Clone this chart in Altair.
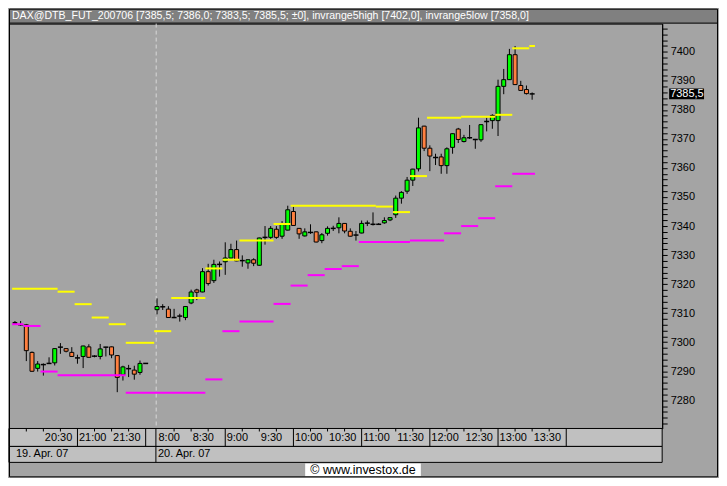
import altair as alt
import pandas as pd

# ------------------------------------------------------------------ data
SYMBOL = "DAX@DTB_FUT_200706"
DAY1_COUNT = 24          # 20:05 .. 22:00 (5-minute bars), 19. Apr. 07
DAY2_COUNT = 67          # 08:00 .. 13:30, 20. Apr. 07

OPEN = [7306.8, 7306.0, 7306.0, 7296.5, 7291.0, 7292.3, 7292.7, 7292.9, 7298.3, 7297.8,
        7296.5, 7294.6, 7295.1, 7298.4, 7295.2, 7295.1, 7298.3, 7298.4, 7295.4, 7288.8,
        7290.9, 7290.4, 7289.6, 7292.7,
        7311.2, 7312.2, 7311.4, 7308.5, 7309.0, 7308.5, 7313.5, 7318.0, 7317.3, 7324.3,
        7321.2, 7326.8, 7327.7, 7329.0, 7331.9, 7328.1, 7327.3, 7328.4, 7326.5, 7336.1,
        7336.1, 7338.9, 7336.5, 7338.6, 7345.0, 7339.2, 7336.6, 7337.8, 7338.0, 7335.0,
        7337.5, 7339.2, 7339.4, 7340.9, 7338.2, 7336.9, 7337.6, 7341.0, 7340.6, 7340.6,
        7341.1, 7342.1, 7343.9, 7349.6, 7352.0, 7355.8, 7359.7, 7374.4, 7366.8, 7363.6,
        7363.8, 7360.8, 7367.1, 7373.4, 7369.1, 7370.4, 7369.8, 7369.7, 7376.0, 7376.3,
        7376.3, 7388.1, 7390.4, 7399.0, 7388.4, 7387.0, 7385.5]
HIGH = [7307.3, 7307.3, 7306.3, 7296.8, 7293.5, 7292.7, 7294.8, 7297.9, 7299.7, 7297.9,
        7298.3, 7295.7, 7298.8, 7299.3, 7295.5, 7299.4, 7298.4, 7298.5, 7295.5, 7291.9,
        7292.2, 7291.9, 7293.7, 7292.7,
        7315.1, 7313.1, 7312.4, 7311.5, 7309.8, 7312.4, 7318.1, 7318.4, 7325.5, 7327.0,
        7328.4, 7327.8, 7334.4, 7333.9, 7335.0, 7329.9, 7328.5, 7328.9, 7336.0, 7340.0,
        7340.0, 7340.0, 7341.7, 7347.0, 7346.6, 7339.3, 7339.2, 7340.6, 7338.1, 7337.6,
        7339.9, 7340.1, 7343.0, 7341.0, 7339.2, 7338.3, 7341.9, 7341.9, 7344.7, 7341.0,
        7343.0, 7343.0, 7350.5, 7352.0, 7356.9, 7359.7, 7377.3, 7374.5, 7367.8, 7364.9,
        7364.9, 7367.1, 7371.9, 7373.8, 7371.4, 7374.8, 7370.0, 7375.0, 7377.3, 7378.5,
        7390.4, 7394.1, 7401.0, 7402.0, 7390.0, 7388.4, 7386.0]
LOW = [7306.0, 7305.6, 7293.5, 7289.8, 7289.9, 7288.5, 7292.5, 7292.0, 7296.0, 7296.5,
       7295.0, 7292.6, 7291.1, 7294.7, 7294.8, 7294.1, 7295.1, 7294.5, 7282.8, 7286.8,
       7288.0, 7287.1, 7288.8, 7292.7,
       7309.6, 7311.1, 7308.4, 7308.3, 7307.1, 7307.6, 7313.1, 7314.5, 7317.2, 7319.5,
       7320.4, 7322.6, 7323.2, 7328.9, 7327.9, 7326.0, 7325.3, 7326.2, 7326.4, 7333.6,
       7335.6, 7335.6, 7335.6, 7338.5, 7340.1, 7335.6, 7336.4, 7337.3, 7334.4, 7334.1,
       7336.7, 7338.3, 7337.5, 7337.5, 7336.4, 7335.0, 7337.5, 7340.0, 7340.2, 7340.4,
       7340.8, 7341.7, 7342.8, 7347.7, 7351.1, 7353.8, 7358.8, 7365.8, 7358.9, 7361.0,
       7358.0, 7358.0, 7364.9, 7368.6, 7368.8, 7370.0, 7366.6, 7369.0, 7372.6, 7373.5,
       7371.0, 7385.4, 7390.3, 7388.6, 7386.6, 7385.3, 7383.5]
CLOSE = [7306.5, 7306.0, 7297.1, 7290.0, 7292.5, 7292.3, 7292.7, 7297.8, 7298.3, 7296.9,
         7295.1, 7294.6, 7298.7, 7294.8, 7295.2, 7297.7, 7298.3, 7295.6, 7287.9, 7291.5,
         7290.9, 7289.0, 7292.7, 7292.7,
         7312.3, 7312.2, 7308.5, 7308.5, 7309.0, 7312.3, 7317.3, 7317.2, 7324.3, 7320.2,
         7326.8, 7326.8, 7329.0, 7331.9, 7328.0, 7328.1, 7328.4, 7327.2, 7335.9, 7336.1,
         7339.2, 7336.1, 7340.8, 7345.6, 7340.2, 7337.3, 7338.0, 7337.8, 7334.5, 7337.0,
         7339.2, 7339.2, 7340.9, 7338.3, 7336.5, 7336.9, 7340.9, 7341.0, 7340.6, 7340.6,
         7341.9, 7342.9, 7349.6, 7351.6, 7355.8, 7359.6, 7373.8, 7366.8, 7364.1, 7363.6,
         7360.8, 7366.6, 7371.8, 7369.8, 7370.4, 7370.4, 7369.8, 7374.9, 7376.0, 7378.1,
         7388.1, 7390.4, 7399.0, 7388.7, 7386.7, 7385.6, 7385.5]

# invrange5high / invrange5low step segments (bar slots, inclusive)
YH_START = [0, 8, 11, 14, 17, 20, 25, 28, 34, 37, 40, 46, 49, 64, 67, 70, 73, 79, 85, 88, 91]
YH_END = [7, 10, 13, 16, 19, 24, 27, 33, 36, 39, 45, 48, 63, 66, 69, 72, 78, 84, 87, 90, 91]
YH_VAL = [7318.4, 7317.4, 7313.1, 7308.5, 7306.2, 7299.8, 7303.8, 7315.2, 7325.4, 7328.4,
          7335.0, 7340.7, 7347.0, 7346.7, 7344.8, 7357.2, 7377.3, 7377.6, 7378.3, 7401.2, 7402.0]
YL_START = [0, 2, 5, 8, 20, 34, 37, 40, 46, 49, 52, 55, 58, 61, 70, 76, 79, 82, 85, 88]
YL_END = [1, 4, 7, 19, 33, 36, 39, 45, 48, 51, 54, 57, 60, 69, 75, 78, 81, 84, 87, 91]
YL_VAL = [7306.2, 7305.6, 7289.9, 7288.6, 7282.6, 7287.2, 7303.8, 7307.1, 7313.2, 7319.5,
          7323.1, 7325.2, 7326.2, 7334.5, 7335.0, 7337.5, 7340.0, 7342.7, 7353.7, 7358.0]

TIME_LABELS = ["20:30", "21:00", "21:30", "8:00", "8:30", "9:00", "9:30", "10:00", "10:30",
               "11:00", "11:30", "12:00", "12:30", "13:00", "13:30"]
TIME_LABEL_SLOTS = [5, 11, 17, 25, 31, 37, 43, 49, 55, 61, 67, 73, 79, 85, 91]
HOUR_SLOTS = [11, 23, 24.8, 37, 49, 61, 73, 85, 97]
QUARTER_SLOTS = [2, 5, 8, 14, 17, 20, 28, 31, 34, 40, 43, 46, 52, 55, 58, 64, 67, 70,
                 76, 79, 82, 88, 91, 94]
DATE_LABELS = ["19. Apr. 07", "20. Apr. 07"]
DATE_SLOTS = [0, 25]
DAY_BREAK_SLOT = 24.85
Y_TICKS = list(range(7272, 7410, 2))
COPYRIGHT = "\u00a9 www.investox.de"

# ------------------------------------------------------------------ layout / style
W, H = 655, 406
TOTAL_W = 711
TITLE_H = 15
FONT = "Liberation Sans"
BG = "#a4a4a4"
TITLE_BG = "#808080"
ROW_BG = "#c0c0c0"
GREEN = "#00ff00"
ORANGE = "#ff8040"
YELLOW = "#ffff00"
MAGENTA = "#ff00ff"

xs = alt.Scale(domain=[-0.17, 113.0], nice=False, zero=False)
ys = alt.Scale(domain=[7270.3, 7409.7], nice=False, zero=False)
yaxis = alt.Axis(orient="right", values=Y_TICKS, title=None, grid=False,
                 labelExpr="datum.value % 10 == 0 ? format(datum.value, 'd') : ''",
                 domainColor="black", domainWidth=1, tickColor="black", tickWidth=1,
                 tickSize=5, labelColor="black", labelFont=FONT, labelFontSize=11,
                 labelPadding=3, labelOverlap=False, labelBound=False)


def X(field):
    return alt.X(field, type="quantitative", scale=xs, axis=None)


def Y(field):
    return alt.Y(field, type="quantitative", scale=ys, axis=yaxis)


slots = list(range(DAY1_COUNT)) + list(range(DAY1_COUNT + 1, DAY1_COUNT + 1 + DAY2_COUNT))
cd = pd.DataFrame({"slot": slots, "open": OPEN, "high": HIGH, "low": LOW, "close": CLOSE})
cd["dir"] = ["up" if c > o else ("down" if c < o else "flat") for o, c in zip(OPEN, CLOSE)]

yh = pd.DataFrame({"x0": [s - 0.5 for s in YH_START], "x1": [e + 0.5 for e in YH_END], "v": YH_VAL})
yl = pd.DataFrame({"x0": [s - 0.5 for s in YL_START], "x1": [e + 0.5 for e in YL_END], "v": YL_VAL})

one = pd.DataFrame({"a": [0]})


def fmt(v):
    return f"{v:.1f}".replace(".", ",")


title = (f"{SYMBOL} [{fmt(OPEN[-1])}; {fmt(HIGH[-1])}; {fmt(LOW[-1])}; {fmt(CLOSE[-1])}; \u00b10],"
         f"  invrange5high [{fmt(YH_VAL[-1])}],  invrange5low [{fmt(YL_VAL[-1])}]")

layers = []
# title bar
layers.append(alt.Chart(one).mark_rect(fill=TITLE_BG).encode(
    x=alt.value(0), x2=alt.value(TOTAL_W), y=alt.value(-TITLE_H), y2=alt.value(0)))
layers.append(alt.Chart(one).mark_rule(color="black", strokeWidth=1).encode(
    x=alt.value(0), x2=alt.value(TOTAL_W), y=alt.value(-0.5)))
layers.append(alt.Chart(pd.DataFrame({"t": [title]})).mark_text(
    align="left", baseline="middle", color="white", font=FONT, fontSize=10.6).encode(
    x=alt.value(3), y=alt.value(-TITLE_H / 2), text="t:N"))

# time row and date row
for y0, y1 in [(H, H + 18), (H + 18, H + 34)]:
    layers.append(alt.Chart(one).mark_rect(fill=ROW_BG, stroke="black", strokeWidth=1).encode(
        x=alt.value(0), x2=alt.value(W), y=alt.value(y0), y2=alt.value(y1)))

hours = pd.DataFrame({"slot": HOUR_SLOTS})
layers.append(alt.Chart(hours).mark_rule(color="black", strokeWidth=1).encode(
    x=X("slot"), y=alt.value(H), y2=alt.value(H + 18)))
quarters = pd.DataFrame({"slot": QUARTER_SLOTS})
layers.append(alt.Chart(quarters).mark_rule(color="black", strokeWidth=1).encode(
    x=X("slot"), y=alt.value(H), y2=alt.value(H + 3)))
tl = pd.DataFrame({"slot": TIME_LABEL_SLOTS, "label": TIME_LABELS})
layers.append(alt.Chart(tl).mark_text(align="left", baseline="middle", dx=1.5, font=FONT,
                                      fontSize=11, color="black").encode(
    x=X("slot"), y=alt.value(H + 9.5), text="label:N"))
layers.append(alt.Chart(pd.DataFrame({"slot": [HOUR_SLOTS[2]]})).mark_rule(color="black").encode(
    x=X("slot"), y=alt.value(H + 18), y2=alt.value(H + 34)))
dl = pd.DataFrame({"slot": DATE_SLOTS, "label": DATE_LABELS})
layers.append(alt.Chart(dl).mark_text(align="left", baseline="middle", dx=1, font=FONT,
                                      fontSize=11, color="black").encode(
    x=X("slot"), y=alt.value(H + 26), text="label:N"))

# copyright
layers.append(alt.Chart(one).mark_rect(fill="white").encode(
    x=alt.value(297), x2=alt.value(413), y=alt.value(H + 35), y2=alt.value(H + 48)))
layers.append(alt.Chart(pd.DataFrame({"t": [COPYRIGHT]})).mark_text(
    align="center", baseline="middle", font=FONT, fontSize=12.5, color="black").encode(
    x=alt.value(355), y=alt.value(H + 41.5), text="t:N"))

# day-break dashed line
layers.append(alt.Chart(pd.DataFrame({"slot": [DAY_BREAK_SLOT]})).mark_rule(
    color="#d8d8d8", strokeDash=[4, 3], strokeWidth=1).encode(
    x=X("slot"), y=alt.value(0), y2=alt.value(H)))

# candles
base = alt.Chart(cd)
layers.append(base.mark_rule(color="black", strokeWidth=1).encode(
    x=X("slot"), y=Y("low"), y2=alt.Y2("high")))
layers.append(base.transform_filter("datum.open != datum.close").mark_bar(
    size=4, stroke="black", strokeWidth=1).encode(
    x=X("slot"), y=Y("open"), y2=alt.Y2("close"),
    color=alt.Color("dir:N", scale=alt.Scale(domain=["up", "down"], range=[GREEN, ORANGE]),
                    legend=None)))
layers.append(base.transform_filter("datum.open == datum.close").mark_rule(
    color="black", strokeWidth=1.5, xOffset=-2.5, x2Offset=2.5).encode(
    x=X("slot"), x2=alt.X2("slot"), y=Y("open")))

# indicators
layers.append(alt.Chart(yh).mark_rule(color=YELLOW, strokeWidth=2).encode(
    x=X("x0"), x2=alt.X2("x1"), y=Y("v")))
layers.append(alt.Chart(yl).mark_rule(color=MAGENTA, strokeWidth=2).encode(
    x=X("x0"), x2=alt.X2("x1"), y=Y("v")))

# last price box
last = pd.DataFrame({"v": [CLOSE[-1]], "t": [fmt(CLOSE[-1])]})
layers.append(alt.Chart(last).transform_calculate(lo="datum.v - 1.85", hi="datum.v + 1.85").mark_rect(
    fill="black").encode(x=alt.value(W + 7), x2=alt.value(W + 42), y=Y("lo"), y2=alt.Y2("hi")))
layers.append(alt.Chart(last).mark_text(align="left", baseline="middle", color="white",
                                        font=FONT, fontSize=11).encode(
    x=alt.value(W + 8), y=Y("v"), text="t:N"))

# outer frame
layers.append(alt.Chart(one).mark_rect(fill=None, fillOpacity=0, stroke="black", strokeWidth=1).encode(
    x=alt.value(0.5), x2=alt.value(TOTAL_W - 0.5), y=alt.value(-TITLE_H + 0.5), y2=alt.value(H + 48.5)))

chart = alt.layer(*layers).properties(width=W, height=H, padding=0, background=BG).configure_view(
    fill=BG, stroke="black", strokeWidth=1)

chart.save("out.html", embed_options={"renderer": "svg", "actions": False})
